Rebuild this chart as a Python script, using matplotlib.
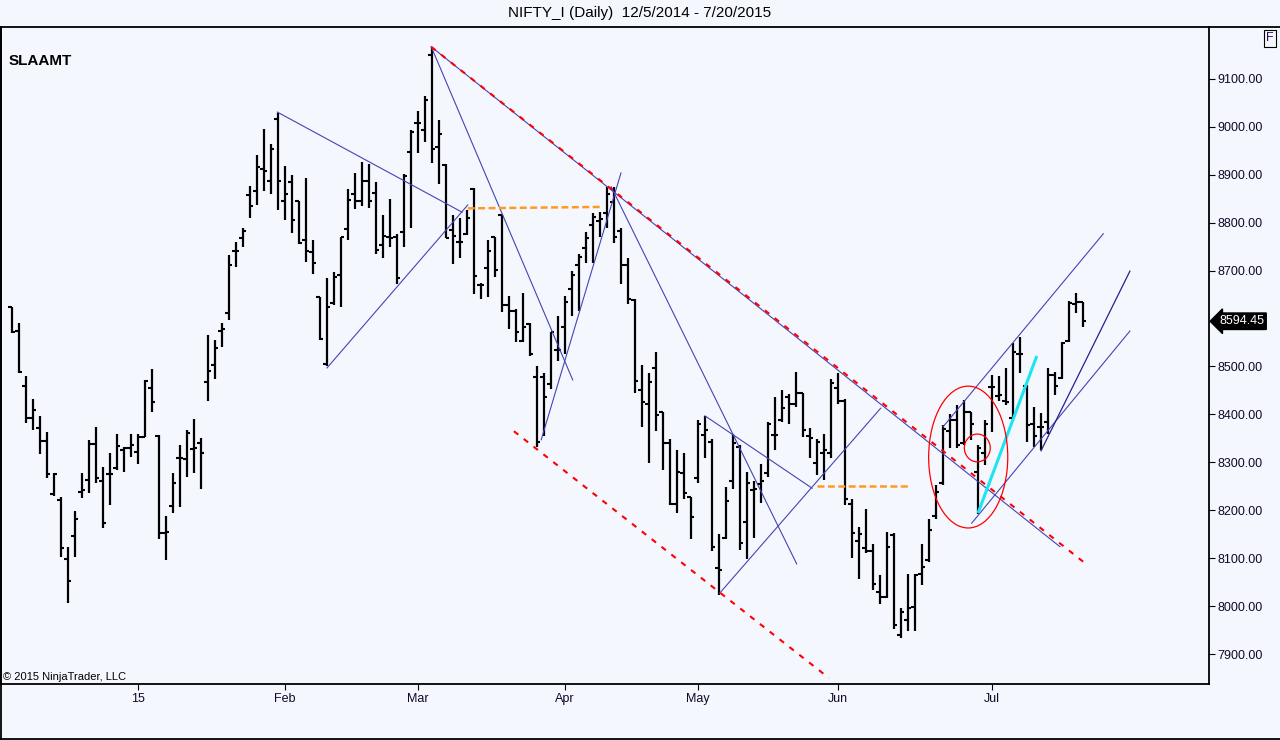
import matplotlib
matplotlib.use('Agg')
import numpy as np
import matplotlib.pyplot as plt
import matplotlib.transforms as mtransforms
from matplotlib.patches import Ellipse
from matplotlib.lines import Line2D

plt.rcParams['font.family'] = ['Liberation Sans', 'DejaVu Sans']
plt.rcParams['lines.scale_dashes'] = False

title = 'NIFTY_I (Daily)  12/5/2014 - 7/20/2015'
last_price = 8594.45

# daily OHLC, one entry per trading day (12/5/2014 .. 7/20/2015)
opens = [8624, 8575, 8460, 8393, 8371, 8345, 8233, 8221, 8098, 8146,
         8238, 8263, 8338, 8260, 8275, 8288, 8326, 8330, 8322, 8352,
         8455, 8354, 8152, 8209, 8310, 8306, 8327, 8340, 8468, 8503,
         8575, 8611, 8742, 8768, 8858, 8867, 8912, 8887, 9017, 8846,
         8884, 8846, 8765, 8738, 8644, 8505, 8632, 8691, 8786, 8861,
         8846, 8888, 8863, 8754, 8771, 8771, 8781, 8948, 9008, 8994,
         9150, 8959, 8921, 8785, 8760, 8777, 8870, 8670, 8705, 8770,
         8816, 8628, 8616, 8554, 8589, 8479, 8479, 8463, 8534, 8583,
         8661, 8712, 8747, 8795, 8804, 8821, 8844, 8783, 8712, 8639,
         8450, 8422, 8496, 8406, 8340, 8213, 8277, 8228, 8267, 8357,
         8343, 8079, 8143, 8262, 8331, 8176, 8242, 8255, 8278, 8357,
         8388, 8436, 8422, 8444, 8354, 8299, 8319, 8320, 8455, 8427,
         8214, 8135, 8121, 8114, 8030, 8018, 8148, 7940, 7970, 7999,
         8068, 8096, 8187, 8256, 8366, 8388, 8340, 8404, 8280, 8319,
         8457, 8438, 8427, 8392, 8527, 8459, 8380, 8374, 8385, 8482,
         8475, 8554, 8630, 8635]
highs = [8624, 8590, 8480, 8432, 8397, 8364, 8278, 8228, 8123, 8198,
         8278, 8347, 8374, 8291, 8320, 8359, 8333, 8359, 8359, 8472,
         8494, 8357, 8187, 8277, 8336, 8367, 8390, 8350, 8566, 8555,
         8590, 8733, 8760, 8790, 8877, 8941, 8995, 8964, 9030, 8918,
         8900, 8846, 8893, 8765, 8644, 8684, 8698, 8771, 8870, 8904,
         8927, 8923, 8886, 8816, 8849, 8777, 8902, 8994, 9034, 9065,
         9167, 9014, 8923, 8816, 8809, 8827, 8872, 8675, 8765, 8771,
         8816, 8647, 8621, 8653, 8590, 8501, 8487, 8573, 8605, 8647,
         8700, 8735, 8781, 8820, 8823, 8874, 8874, 8788, 8726, 8640,
         8503, 8487, 8531, 8406, 8348, 8326, 8320, 8228, 8388, 8397,
         8348, 8150, 8249, 8359, 8336, 8280, 8260, 8297, 8385, 8437,
         8451, 8443, 8489, 8444, 8371, 8348, 8360, 8473, 8486, 8432,
         8223, 8166, 8202, 8130, 8065, 8155, 8153, 7995, 8067, 8068,
         8130, 8181, 8253, 8378, 8401, 8420, 8430, 8404, 8336, 8388,
         8482, 8480, 8496, 8548, 8562, 8461, 8416, 8402, 8496, 8489,
         8552, 8637, 8654, 8635]
lows = [8570, 8486, 8383, 8367, 8317, 8267, 8230, 8103, 8007, 8103,
        8225, 8237, 8256, 8164, 8211, 8284, 8280, 8312, 8296, 8352,
        8406, 8141, 8096, 8194, 8207, 8270, 8278, 8244, 8427, 8473,
        8541, 8596, 8707, 8749, 8809, 8837, 8867, 8861, 8827, 8806,
        8779, 8756, 8719, 8694, 8555, 8500, 8628, 8625, 8764, 8828,
        8834, 8830, 8735, 8726, 8750, 8672, 8750, 8790, 8945, 8969,
        8925, 8881, 8768, 8714, 8726, 8774, 8651, 8640, 8644, 8686,
        8614, 8578, 8552, 8552, 8522, 8333, 8355, 8452, 8512, 8527,
        8605, 8616, 8715, 8715, 8770, 8790, 8757, 8672, 8630, 8445,
        8374, 8299, 8366, 8284, 8211, 8194, 8223, 8139, 8256, 8310,
        8114, 8023, 8141, 8244, 8118, 8098, 8143, 8216, 8270, 8326,
        8385, 8381, 8416, 8352, 8310, 8274, 8263, 8310, 8422, 8211,
        8100, 8056, 8110, 8034, 8004, 8016, 7952, 7933, 7947, 7949,
        8044, 8091, 8181, 8253, 8329, 8329, 8336, 8347, 8192, 8294,
        8364, 8427, 8420, 8388, 8486, 8343, 8333, 8326, 8360, 8440,
        8473, 8552, 8611, 8582]
closes = [8572, 8489, 8393, 8409, 8345, 8275, 8275, 8121, 8053, 8181,
          8242, 8338, 8267, 8174, 8275, 8334, 8330, 8336, 8352, 8470,
          8425, 8152, 8155, 8256, 8310, 8362, 8329, 8319, 8491, 8538,
          8578, 8712, 8742, 8783, 8834, 8917, 8908, 8953, 8888, 8860,
          8806, 8758, 8740, 8717, 8557, 8625, 8687, 8771, 8847, 8846,
          8888, 8846, 8743, 8772, 8768, 8684, 8898, 8990, 9008, 9056,
          8953, 8985, 8768, 8772, 8760, 8809, 8689, 8670, 8740, 8701,
          8628, 8616, 8573, 8582, 8526, 8343, 8437, 8571, 8534, 8635,
          8691, 8728, 8768, 8813, 8807, 8861, 8770, 8712, 8640, 8470,
          8425, 8468, 8399, 8340, 8213, 8280, 8235, 8185, 8381, 8367,
          8124, 8075, 8220, 8340, 8132, 8256, 8244, 8260, 8381, 8357,
          8413, 8422, 8445, 8367, 8350, 8343, 8326, 8465, 8429, 8223,
          8153, 8150, 8114, 8046, 8020, 8123, 7960, 7988, 7995, 8065,
          8081, 8158, 8239, 8369, 8388, 8336, 8404, 8381, 8330, 8381,
          8457, 8440, 8425, 8531, 8526, 8378, 8354, 8374, 8482, 8459,
          8550, 8632, 8635, 8594.45]

month_pos = [18, 39, 58, 79, 98, 118, 140]
month_labels = ['15', 'Feb', 'Mar', 'Apr', 'May', 'Jun', 'Jul']
price_ticks = [7900, 8000, 8100, 8200, 8300, 8400, 8500, 8700, 8800, 8900, 9000, 9100]

# drawing objects, (bar, price) -> (bar, price)
blue_lines = [
    ((37.9, 9031), (64.3, 8822)),
    ((45.0, 8497), (65.1, 8837)),
    ((59.9, 9167), (80.1, 8472)),
    ((75.6, 8347), (87.0, 8904)),
    ((85.6, 8875), (112.1, 8088)),
    ((99.0, 8397), (114.3, 8246)),
    ((101.1, 8027), (124.1, 8413)),
    ((59.9, 9167), (149.7, 8124)),
    ((133.0, 8374), (155.9, 8777)),
    ((137.1, 8173), (159.7, 8574)),
]
navy_lines = [((147.0, 8324), (159.7, 8699))]
red_dashed = [((59.9, 9167), (153.6, 8086)),
              ((71.7, 8365), (116.7, 7850))]
orange_dashed = [((65.1, 8830), (84.4, 8833)),
                 ((115.0, 8251), (128.0, 8251))]
cyan_lines = [((138.0, 8194), (146.4, 8522))]
# ellipses: center bar, center price, width in bars, height in points
red_ellipses = [(136.6, 8311, 11.3, 296), (137.9, 8330, 3.7, 58)]

bg = '#F5F7FF'
W, H = 1280, 740
fig = plt.figure(figsize=(W / 100, H / 100), dpi=100, facecolor=bg)
ax = fig.add_axes([1 / W, 1 - 684 / H, 1208 / W, 657 / H], facecolor=bg)

x = np.arange(len(closes))
ax.vlines(x, lows, highs, color='black', lw=1.6, zorder=2)
ax.hlines(opens, x - 0.5, x, color='black', lw=1.5, zorder=2)
ax.hlines(closes, x, x + 0.5, color='black', lw=1.5, zorder=2)

def seg(p, **kw):
    ax.plot([p[0][0], p[1][0]], [p[0][1], p[1][1]], **kw)

for p in blue_lines:
    seg(p, color='#4444B4', lw=0.8, zorder=3)
for p in navy_lines:
    seg(p, color='#22228A', lw=0.9, zorder=3)
for p in red_dashed:
    seg(p, color='#FF0000', lw=1.5, dashes=(4, 5), zorder=4)
for p in orange_dashed:
    seg(p, color='#FF9A1F', lw=1.8, dashes=(5, 2.5), zorder=4)
for p in cyan_lines:
    seg(p, color='#1EE3F2', lw=2.2, solid_capstyle='butt', zorder=4)
for cx, cy, w, h in red_ellipses:
    ax.add_patch(Ellipse((cx, cy), w, h, fill=False, ec='#FF0000', lw=0.9, zorder=4))

ax.set_xlim(-11 / 7, 1197 / 7)
ax.set_ylim(7837.4, 9208.5)
ax.yaxis.tick_right()
ax.set_yticks(price_ticks)
ax.set_yticklabels([f'{p:.2f}' for p in price_ticks])
ax.set_xticks(month_pos)
ax.set_xticklabels(month_labels)
ax.tick_params(axis='y', direction='out', length=4.3, width=0.8, pad=1.5,
               labelsize=9, colors='black', labelcolor='#10082A')
ax.tick_params(axis='x', direction='out', length=4.3, width=0.8, pad=2,
               labelsize=9, labelcolor='#10082A')
for s in ax.spines.values():
    s.set_linewidth(1.3)

# last price tag
trans = mtransforms.blended_transform_factory(ax.transAxes, ax.transData)
ax.text(1 + 10 / 1208, last_price, f'{last_price:.2f}', transform=trans,
        ha='left', va='center', color='white', fontsize=9, clip_on=False,
        bbox=dict(boxstyle='larrow,pad=0.18', fc='black', ec='black'))

fig.text(640 / W, 1 - 13 / H, title, ha='center', va='center', fontsize=11)
ax.text(8 / 1208, 1 - 34 / 657, 'SLAAMT', transform=ax.transAxes,
        ha='left', va='center', fontsize=11, fontweight='bold')
ax.text(2 / 1208, 7 / 657, '\u00a9 2015 NinjaTrader, LLC', transform=ax.transAxes,
        ha='left', va='center', fontsize=8)
fig.text(1270 / W, 1 - 38 / H, 'F', ha='center', va='center', fontsize=9,
         color='#2A0A5A',
         bbox=dict(boxstyle='square,pad=0.2', fc='none', ec='black', lw=0.8))

# outer frame and header line
fig.add_artist(Line2D([1209 / W, 1], [1 - 27 / H] * 2, color='black', lw=1.3))
fig.add_artist(Line2D([0.5 / W] * 2, [0, 1 - 27 / H], color='black', lw=1.3))
fig.add_artist(Line2D([0, 1], [0.7 / H] * 2, color='black', lw=1.3))

fig.savefig('out.png', dpi=100, facecolor=bg)
